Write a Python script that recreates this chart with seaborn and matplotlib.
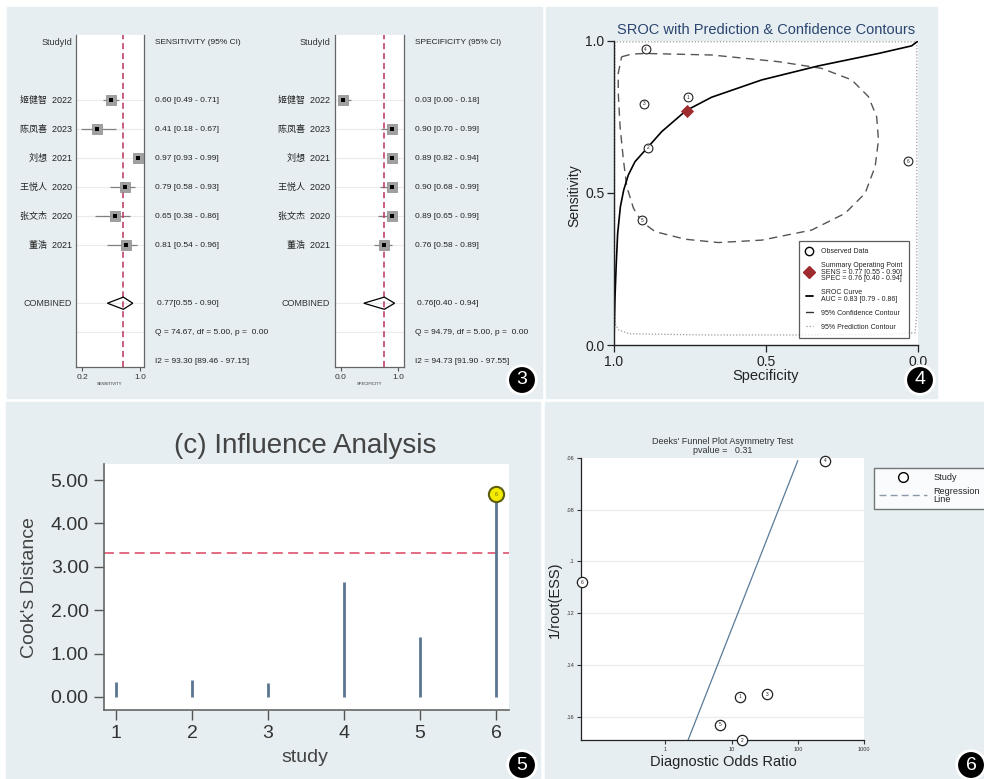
import numpy as np
import pandas as pd
import seaborn as sns
import matplotlib
matplotlib.use("Agg")
import matplotlib.pyplot as plt
from matplotlib.lines import Line2D
from matplotlib.patches import Rectangle
from matplotlib.transforms import blended_transform_factory

sns.set_style("white")
plt.rcParams['font.family'] = ['Liberation Sans', 'Noto Sans CJK SC', 'DejaVu Sans']

# ---- forest plot data (panel 3)
study_names = ["姬健智", "陈凤喜", "刘想", "王悦人", "张文杰", "董浩"]
study_years = [2022, 2023, 2021, 2020, 2020, 2021]
sens = [0.60, 0.41, 0.97, 0.79, 0.65, 0.81]
sens_lo = [0.49, 0.18, 0.93, 0.58, 0.38, 0.54]
sens_hi = [0.71, 0.67, 0.99, 0.93, 0.86, 0.96]
spec = [0.03, 0.90, 0.89, 0.90, 0.89, 0.76]
spec_lo = [0.00, 0.70, 0.82, 0.68, 0.65, 0.58]
spec_hi = [0.18, 0.99, 0.94, 0.99, 0.99, 0.89]
pooled_sens = [0.77, 0.55, 0.90]
pooled_spec = [0.76, 0.40, 0.94]
sens_het = ["Q = 74.67, df = 5.00, p =  0.00", "I2 = 93.30 [89.46 - 97.15]"]
spec_het = ["Q = 94.79, df = 5.00, p =  0.00", "I2 = 94.73 [91.90 - 97.55]"]

# ---- SROC data (panel 4)
obs_id = [1, 2, 3, 4, 5, 6]
obs_spec = [0.758, 0.889, 0.901, 0.896, 0.907, 0.032]
obs_sens = [0.815, 0.649, 0.794, 0.973, 0.411, 0.605]
sroc_spec = [1.0, 0.999, 0.997, 0.993, 0.988, 0.979, 0.968, 0.953, 0.931, 0.890,
             0.843, 0.763, 0.679, 0.514, 0.328, 0.130, 0.021, 0.0]
sroc_sens = [0.0, 0.060, 0.148, 0.258, 0.367, 0.455, 0.510, 0.559, 0.603, 0.649,
             0.702, 0.771, 0.815, 0.872, 0.918, 0.959, 0.984, 1.0]
conf_spec = [0.975, 0.942, 0.898, 0.679, 0.459, 0.317, 0.218, 0.163, 0.136, 0.130,
             0.141, 0.174, 0.240, 0.350, 0.514, 0.657, 0.766, 0.865, 0.909, 0.936,
             0.958, 0.969, 0.980, 0.986, 0.986, 0.975]
conf_sens = [0.948, 0.957, 0.959, 0.954, 0.932, 0.910, 0.872, 0.817, 0.751, 0.674,
             0.587, 0.499, 0.433, 0.378, 0.345, 0.337, 0.348, 0.373, 0.406, 0.450,
             0.521, 0.609, 0.718, 0.828, 0.894, 0.948]
pred_spec = [0.998, 0.996, 0.985, 0.950, 0.700, 0.400, 0.100, 0.010, 0.004, 0.004,
             0.004, 0.500, 0.997, 0.998, 0.998]
pred_sens = [0.100, 0.070, 0.050, 0.037, 0.033, 0.033, 0.035, 0.040, 0.100, 0.500,
             0.997, 0.998, 0.997, 0.500, 0.100]
summary_point = [0.76, 0.77]

# ---- influence data (panel 5)
study_idx = [1, 2, 3, 4, 5, 6]
cooks_d = [0.35, 0.39, 0.33, 2.65, 1.38, 4.67]
cooks_cut = 3.33

# ---- Deeks data (panel 6)
deeks_id = [1, 2, 3, 4, 5, 6]
deeks_dor = [13.5, 14.5, 34.0, 258.0, 6.6, 0.055]
deeks_ess = [0.1523, 0.1690, 0.1514, 0.0610, 0.1632, 0.1080]
reg_dor = [2.2, 100.0]
reg_ess = [0.169, 0.061]

W, H = 984, 779
BG = '#e6eef1'


def frect(x0, y0, x1, y1):
    return [x0 / W, 1 - y1 / H, (x1 - x0) / W, (y1 - y0) / H]


def fx(x):
    return x / W


def fy(y):
    return 1 - y / H


fig = plt.figure(figsize=(W / 100, H / 100), dpi=100)
fig.patch.set_facecolor('white')
for (a, b, c, d) in [(7, 7, 542, 398), (546, 7, 937, 398), (6, 402, 540, 779), (545, 402, 984, 779)]:
    fig.patches.append(Rectangle((fx(a), fy(d)), (c - a) / W, (d - b) / H,
                                 transform=fig.transFigure, color=BG, zorder=-5))


def forest(x0, x1, lab_x, txt_x, vals, lo, hi, pooled, xlim, ticks, ticklabels, header, axlabel, het):
    ax = fig.add_axes(frect(x0, 35, x1, 367))
    ax.set_facecolor('white')
    rows = np.arange(1, len(vals) + 1)
    for r in list(rows) + [8, 9]:
        ax.axhline(r, color='#ebebeb', lw=0.8, zorder=0)
    ax.hlines(rows, lo, hi, color='#808080', lw=0.9, zorder=2)
    sns.scatterplot(x=vals, y=rows, marker='s', s=45, color='#a0a0a0', edgecolor='#8a8a8a',
                    linewidth=0.5, ax=ax, zorder=3, legend=False)
    sns.scatterplot(x=vals, y=rows, marker='s', s=5, color='black', linewidth=0, ax=ax,
                    zorder=4, legend=False)
    p, plo, phi = pooled
    ax.fill([plo, p, phi, p, plo], [8, 7.79, 8, 8.21, 8], fill=False, ec='black', lw=0.9, zorder=3)
    ax.axvline(p, color='#b8365a', ls=(0, (4, 2.5)), lw=1.1, zorder=2)
    ax.set_xlim(xlim)
    ax.set_ylim(10.2, -1.25)
    ax.set_yticks([])
    ax.set_xticks(ticks)
    ax.set_xticklabels(ticklabels, fontsize=6, color='#333333')
    ax.tick_params(axis='x', length=3, width=0.8, color='#555555', pad=2, bottom=True)
    ax.set_xlabel(axlabel, fontsize=3, labelpad=1, color='#333333')
    ax.spines['top'].set_visible(False)
    for s in ['left', 'right', 'bottom']:
        ax.spines[s].set_color('#666666')
        ax.spines[s].set_linewidth(0.9)
    tl = blended_transform_factory(fig.transFigure, ax.transData)
    ax.text(fx(lab_x), -1.0, "StudyId", transform=tl, ha='right', va='center', fontsize=6.5, color='#333333')
    ax.text(fx(txt_x), -1.0, header, transform=tl, ha='left', va='center', fontsize=6, color='#222222')
    for r, nm, yr, v, l, h in zip(rows, study_names, study_years, vals, lo, hi):
        ax.text(fx(lab_x), r, f"{nm}  {yr}", transform=tl, ha='right', va='center', fontsize=6.5, color='#222222')
        ax.text(fx(txt_x), r, f"{v:.2f} [{l:.2f} - {h:.2f}]", transform=tl, ha='left', va='center',
                fontsize=6, color='#222222')
    ax.text(fx(lab_x), 8, "COMBINED", transform=tl, ha='right', va='center', fontsize=6.5, color='#333333')
    ax.text(fx(txt_x + 2), 8, f"{p:.2f}[{plo:.2f} - {phi:.2f}]", transform=tl, ha='left', va='center',
            fontsize=6, color='#222222')
    ax.text(fx(txt_x), 9, het[0], transform=tl, ha='left', va='center', fontsize=6, color='#222222')
    ax.text(fx(txt_x), 10, het[1], transform=tl, ha='left', va='center', fontsize=6, color='#222222')
    return ax


forest(76, 144, 72, 155, sens, sens_lo, sens_hi, pooled_sens, (0.117, 1.055), [0.2, 1.0],
       ["0.2", "1.0"], "SENSITIVITY (95% CI)", "SENSITIVITY", sens_het)
forest(335, 404, 330, 415, spec, spec_lo, spec_hi, pooled_spec, (-0.105, 1.105), [0.0, 1.0],
       ["0.0", "1.0"], "SPECIFICITY (95% CI)", "SPECIFICITY", spec_het)

# ---- SROC panel
ax4 = fig.add_axes(frect(614, 41, 918, 345))
ax4.set_facecolor('white')
sns.lineplot(x=pred_spec, y=pred_sens, sort=False, estimator=None, color='#9a9a9a', lw=0.9,
             ls=(0, (1, 1.5)), ax=ax4)
sns.lineplot(x=conf_spec, y=conf_sens, sort=False, estimator=None, color='#555555', lw=1.0,
             ls=(0, (6, 4)), ax=ax4)
sns.lineplot(x=sroc_spec, y=sroc_sens, sort=False, estimator=None, color='black', lw=1.2, ax=ax4)
sns.scatterplot(x=obs_spec, y=obs_sens, s=40, facecolor='white', edgecolor='#222222', linewidth=0.8,
                ax=ax4, zorder=4, legend=False)
for i, xs, ys in zip(obs_id, obs_spec, obs_sens):
    ax4.text(xs, ys, str(i), fontsize=3.5, ha='center', va='center', zorder=5, color='#222222')
sns.scatterplot(x=[summary_point[0]], y=[summary_point[1]], marker='D', s=45, color='#9e2b2e',
                linewidth=0, ax=ax4, zorder=5, legend=False)
ax4.set_xlim(1.0, 0.0)
ax4.set_ylim(0.0, 1.0)
ax4.set_xticks([1.0, 0.5, 0.0])
ax4.set_xticklabels(["1.0", "0.5", "0.0"], fontsize=10, color='#222222')
ax4.set_yticks([0.0, 0.5, 1.0])
ax4.set_yticklabels(["0.0", "0.5", "1.0"], fontsize=10, color='#222222')
ax4.tick_params(length=5, width=0.9, color='#222222', pad=2, left=True, bottom=True)
ax4.spines['top'].set_visible(False)
ax4.spines['right'].set_visible(False)
for s in ['left', 'bottom']:
    ax4.spines[s].set_color('#222222')
    ax4.spines[s].set_linewidth(1.0)
ax4.set_xlabel("")
ax4.set_ylabel("")
fig.text(fx(766), fy(30), "SROC with Prediction & Confidence Contours", fontsize=10.5, color='#2b4570',
         ha='center', va='center')
fig.text(fx(574), fy(196), "Sensitivity", fontsize=10, rotation=90, ha='center', va='center', color='#222222')
fig.text(fx(766), fy(376), "Specificity", fontsize=10.5, ha='center', va='center', color='#222222')
h4 = [Line2D([], [], marker='o', mfc='white', mec='black', ls='none', ms=6, mew=1.0),
      Line2D([], [], marker='D', color='#9e2b2e', ls='none', ms=6),
      Line2D([], [], color='black', lw=1.3),
      Line2D([], [], color='#333333', lw=1.0),
      Line2D([], [], color='#9a9a9a', lw=0.9, ls=(0, (1, 1.5)))]
l4 = ["Observed Data",
      "Summary Operating Point\nSENS = 0.77 [0.55 - 0.90]\nSPEC = 0.76 [0.40 - 0.94]",
      "SROC Curve\nAUC = 0.83 [0.79 - 0.86]",
      "95% Confidence Contour",
      "95% Prediction Contour"]
leg4 = ax4.legend(h4, l4, loc='lower right', bbox_to_anchor=(0.983, 0.013), fontsize=5,
                  handlelength=1.0, handletextpad=1.2, labelspacing=1.0, borderpad=1.0,
                  frameon=True, fancybox=False, edgecolor='#333333')
leg4.get_frame().set_linewidth(0.9)
for t in leg4.get_texts():
    t.set_linespacing(0.9)
    t.set_color('#222222')

# ---- influence panel
ax5 = fig.add_axes(frect(104, 464, 509, 710))
ax5.set_facecolor('white')
ax5.vlines(study_idx, 0, cooks_d, color='#5a7691', lw=2.0, zorder=2)
ax5.axhline(cooks_cut, color='#e0607a', ls=(0, (5.5, 3)), lw=1.3, zorder=1)
sns.scatterplot(x=[study_idx[-1]], y=[cooks_d[-1]], s=120, color='#f4ea00', edgecolor='#5e5e10',
                linewidth=1.5, ax=ax5, zorder=4, legend=False)
ax5.text(study_idx[-1], cooks_d[-1], str(study_idx[-1]), fontsize=4, ha='center', va='center',
         color='#6e6e20', zorder=5)
ax5.set_xlim(0.84, 6.17)
ax5.set_ylim(-0.3, 5.37)
ax5.set_yticks([0, 1, 2, 3, 4, 5])
ax5.set_yticklabels([f"{v:.2f}" for v in [0, 1, 2, 3, 4, 5]], fontsize=14, color='#333333')
ax5.set_xticks(study_idx)
ax5.set_xticklabels([str(i) for i in study_idx], fontsize=14, color='#333333')
ax5.tick_params(length=7, width=1.0, color='#555555', pad=4, left=True, bottom=True)
ax5.spines['top'].set_visible(False)
ax5.spines['right'].set_visible(False)
for s in ['left', 'bottom']:
    ax5.spines[s].set_color('#666666')
    ax5.spines[s].set_linewidth(1.2)
fig.text(fx(305), fy(446), "(c) Influence Analysis", fontsize=20, color='#444444', ha='center', va='center')
fig.text(fx(30), fy(588), "Cook's Distance", fontsize=14, color='#444444', rotation=90, ha='center', va='center')
fig.text(fx(305), fy(757), "study", fontsize=14, color='#444444', ha='center', va='center')

# ---- Deeks panel
ax6 = fig.add_axes(frect(581, 458, 864, 740))
ax6.set_facecolor('white')
ax6.set_xscale('log')
for yv in [0.08, 0.10, 0.12, 0.14, 0.16]:
    ax6.axhline(yv, color='#ececec', lw=1.0, zorder=0)
sns.lineplot(x=reg_dor, y=reg_ess, color='#5a7a98', lw=0.9, ax=ax6, estimator=None)
sns.scatterplot(x=deeks_dor, y=deeks_ess, s=55, facecolor='white', edgecolor='#222222', linewidth=0.9,
                ax=ax6, zorder=4, legend=False, clip_on=False)
for i, xs, ys in zip(deeks_id, deeks_dor, deeks_ess):
    ax6.text(xs, ys, str(i), fontsize=3.5, ha='center', va='center', zorder=5, color='#222222', clip_on=False)
ax6.set_xlim(0.053, 1000)
ax6.set_ylim(0.169, 0.06)
ax6.set_xticks([1, 10, 100, 1000])
ax6.set_xticklabels(["1", "10", "100", "1000"], fontsize=4, color='#333333')
ax6.xaxis.set_minor_locator(matplotlib.ticker.NullLocator())
ax6.set_yticks([0.06, 0.08, 0.10, 0.12, 0.14, 0.16])
ax6.set_yticklabels([".06", ".08", ".1", ".12", ".14", ".16"], fontsize=4, color='#333333')
ax6.tick_params(length=3, width=0.8, color='#333333', pad=2, left=True, bottom=True)
ax6.spines['top'].set_visible(False)
ax6.spines['right'].set_visible(False)
for s in ['left', 'bottom']:
    ax6.spines[s].set_color('#222222')
    ax6.spines[s].set_linewidth(0.9)
ax6.set_xlabel("")
ax6.set_ylabel("")
fig.text(fx(723), fy(446), "Deeks' Funnel Plot Asymmetry Test\npvalue =   0.31", fontsize=6.5,
         color='#333333', ha='center', va='center', linespacing=0.95)
fig.text(fx(723), fy(762), "Diagnostic Odds Ratio", fontsize=10.5, color='#222222', ha='center', va='center')
fig.text(fx(555), fy(600), "1/root(ESS)", fontsize=10.5, color='#222222', rotation=90, ha='center', va='center')
h6 = [Line2D([], [], marker='o', mfc='white', mec='black', ls='none', ms=7, mew=1.0),
      Line2D([], [], color='#8a9aa8', lw=1.0, ls=(0, (5, 3)))]
leg6 = fig.legend(h6, ["Study", "Regression\nLine"], loc='upper left', bbox_to_anchor=(fx(869), fy(463)),
                  fontsize=6.6, handlelength=5.2, handletextpad=0.7, labelspacing=0.5, borderpad=0.6,
                  frameon=True, fancybox=False, edgecolor='#555555')
leg6.get_frame().set_facecolor('white')
for t in leg6.get_texts():
    t.set_linespacing(0.85)

# ---- corner badges
for num, bx, by in [("3", 522, 380), ("4", 920, 380), ("5", 522, 765), ("6", 971, 765)]:
    fig.text(fx(bx), fy(by), num, fontsize=14, color='white', ha='center', va='center',
             bbox=dict(boxstyle='circle,pad=0.3', fc='black', ec='white', lw=2))

fig.savefig("out.png", dpi=100)
